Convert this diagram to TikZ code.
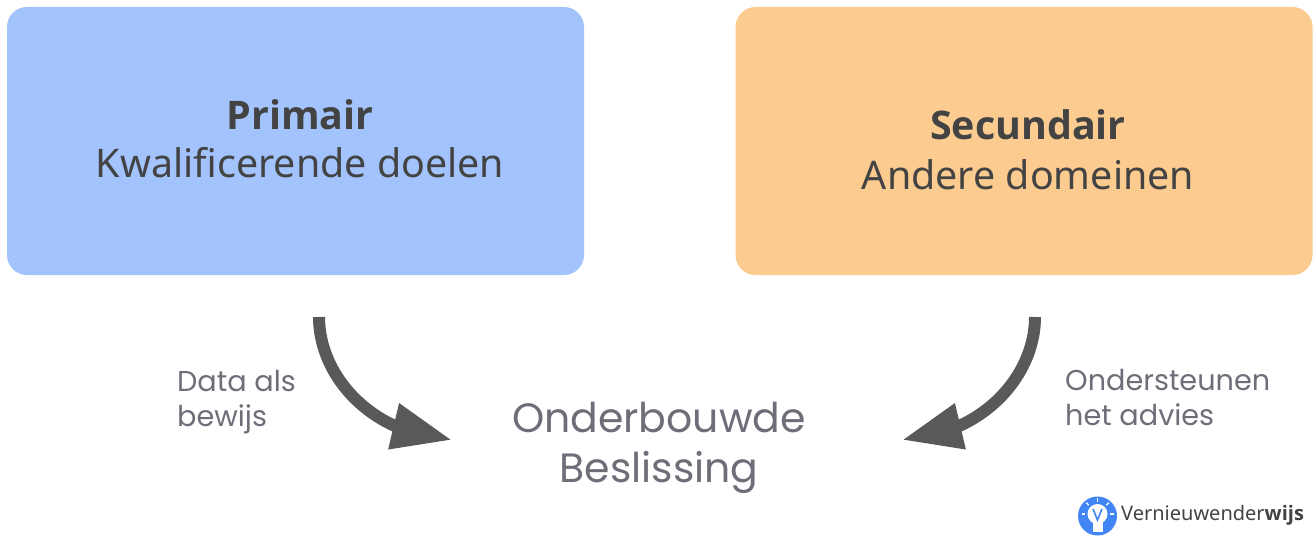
\documentclass[tikz,border=0pt]{standalone}
\usepackage{xcolor}
\usepackage{fontspec}
\setmainfont{Noto Sans}
\newfontfamily\boldfont{Open Sans Bold}
\newfontfamily\labelfont{Poppins}
\usepackage{tikz}
\usetikzlibrary{arrows.meta,bending}
\definecolor{primairblue}{RGB}{162, 195, 252}
\definecolor{secundairorange}{RGB}{252, 203, 144}
\definecolor{darktext}{RGB}{67, 67, 67}
\definecolor{mediumgray}{RGB}{110, 110, 120}
\definecolor{arrowgray}{RGB}{89, 89, 89}
\definecolor{logoblue}{RGB}{66, 133, 244}
\tikzset{
    doelbox/.style={rounded corners=20pt, minimum width=577pt, minimum height=268pt, inner sep=0pt},
    doeltext/.style={text=darktext, align=center, inner sep=0pt, font=\fontsize{39.4}{48}\selectfont},
    sidelabel/.style={text=mediumgray, align=left, inner sep=0pt, font=\labelfont\fontsize{28.7}{35}\selectfont},
    bigarrow/.style={draw=arrowgray, line width=12pt, -{Triangle[length=60pt,width=44pt,fill=arrowgray,flex=1]}}
}

\begin{document}
\begin{tikzpicture}[x=1pt, y=-1pt]
    \useasboundingbox (0,0) rectangle (1313,535);
    \fill[white] (0,0) rectangle (1313,535);

    \node[doelbox, fill=primairblue] (primair) at (295.5,141) {};
    \node[doelbox, fill=secundairorange] (secundair) at (1024,141) {};
    \node[doeltext] (primairtekst) at (300,139) {{\boldfont Primair}\\Kwalificerende doelen};
    \node[doeltext, font=\fontsize{39.4}{50}\selectfont] (secundairtekst) at (1028,150) {{\boldfont Secundair}\\Andere domeinen};

    \node[text=mediumgray, align=center, inner sep=0pt, font=\labelfont\fontsize{41}{50}\selectfont] (beslissing) at (659,448) {Onderbouwde\\Beslissing};
    \node[sidelabel, anchor=west] (bewijs) at (177,402) {Data als\\bewijs};
    \node[sidelabel, anchor=west] (advies) at (1065,398) {Ondersteunen\\het advies};

    \coordinate (startlinks) at (319,317);
    \coordinate (eindlinks) at (452,440);
    \coordinate (startrechts) at (1035,317);
    \coordinate (eindrechts) at (902,440);
    \draw[bigarrow] (startlinks) .. controls (319,375) and (370,435) .. (eindlinks);
    \draw[bigarrow] (startrechts) .. controls (1035,375) and (984,435) .. (eindrechts);

    % logo
    \fill[logoblue] (1097.5,516) circle (19.5);
    \fill[white] (1097.5,514) circle (10);
    \fill[white] (1092.5,520) rectangle (1102.5,532);
    \draw[logoblue, line width=1.6pt] (1093,509) -- (1097.5,520) -- (1102,509);
    \foreach \a in {180,-135,-90,-45,0}
        \draw[white, line width=1.3pt] (1097.5,514) ++(\a:12.5) -- ++(\a:3.5);
    \node[anchor=west, inner sep=0pt, text=darktext, font=\fontsize{20}{24}\selectfont] (logotekst) at (1121,515) {Vernieuwender{\boldfont wijs}};
\end{tikzpicture}
\end{document}
